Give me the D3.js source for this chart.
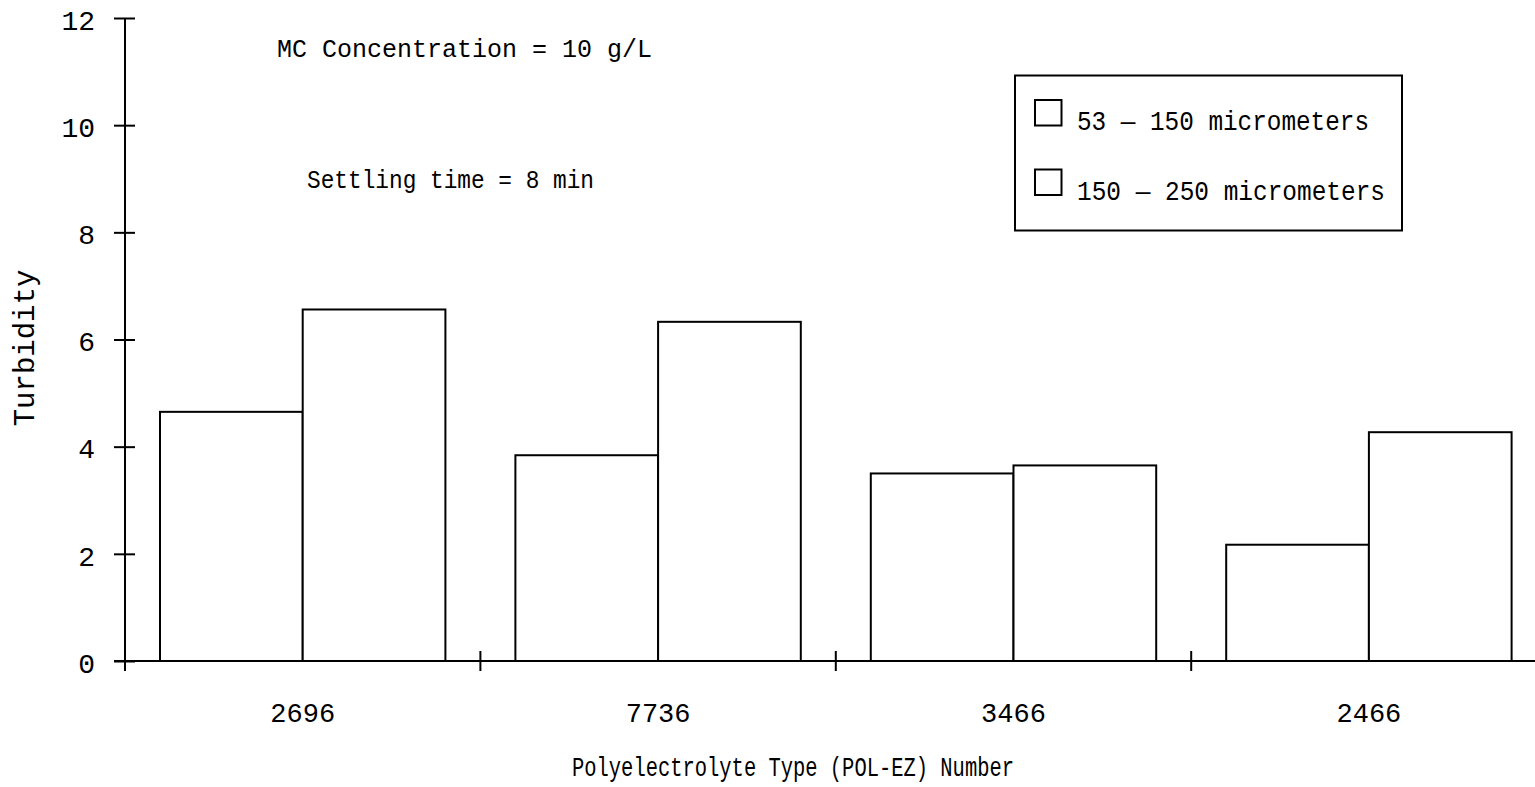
<!DOCTYPE html>
<html>
<head>
<meta charset="utf-8">
<script src="https://cdn.jsdelivr.net/npm/d3@7"></script>
<style>
  html, body { margin: 0; padding: 0; background: #fff; }
  svg text { font-family: "Liberation Mono", "Courier New", monospace; fill: #000; }
</style>
</head>
<body>
<script>
// Turbidity by polyelectrolyte type, two particle-size fractions
const categories = ["2696", "7736", "3466", "2466"];
const seriesNames = ["53 \u2014 150 micrometers", "150 \u2014 250 micrometers"];
const fine = [4.65, 3.84, 3.50, 2.17];     // 53-150 micrometers
const coarse = [6.56, 6.33, 3.65, 4.27];   // 150-250 micrometers
const yTicks = [0, 2, 4, 6, 8, 10, 12];

const W = 1535, H = 787;
const svg = d3.select("body").append("svg").attr("width", W).attr("height", H);

const x0 = 125, yBottom = 661, yTop = 18;
const step = 355.4;

const x = d3.scaleBand().domain(categories).range([x0, x0 + step * categories.length]).padding(0);
const xs = d3.scaleBand().domain(["fine", "coarse"]).range([35, x.bandwidth() - 35]).padding(0);
const y = d3.scaleLinear().domain([0, 12]).range([yBottom, yTop]);

const rows = categories.map((c, i) => ({ cat: c, values: [
  { key: "fine", v: fine[i] }, { key: "coarse", v: coarse[i] } ] }));

// bars
const g = svg.append("g");
g.selectAll("g.cat").data(rows).join("g")
  .attr("class", "cat")
  .attr("transform", d => `translate(${x(d.cat)},0)`)
  .selectAll("rect").data(d => d.values).join("rect")
  .attr("x", d => xs(d.key))
  .attr("y", d => y(d.v))
  .attr("width", xs.bandwidth())
  .attr("height", d => y(0) - y(d.v))
  .attr("fill", "#fff")
  .attr("stroke", "#000")
  .attr("stroke-width", 2);

// y axis
const yAxis = svg.append("g")
  .attr("transform", `translate(${x0},0)`)
  .call(d3.axisLeft(y).tickValues(yTicks).tickSize(0).tickPadding(30));
yAxis.select(".domain").remove();
yAxis.selectAll("text").attr("font-size", 28).attr("dy", "0.4em")
  .attr("font-family", "Liberation Mono, Courier New, monospace");
yAxis.selectAll(".tick").append("line")
  .attr("x1", -11).attr("x2", 10).attr("stroke", "#000").attr("stroke-width", 2);
svg.append("line").attr("x1", x0).attr("x2", x0).attr("y1", y(12)).attr("y2", yBottom)
  .attr("stroke", "#000").attr("stroke-width", 2);

// x axis
svg.append("line").attr("x1", x0 - 11).attr("x2", W).attr("y1", yBottom).attr("y2", yBottom)
  .attr("stroke", "#000").attr("stroke-width", 2);
svg.selectAll("line.xtick").data(categories).join("line")
  .attr("class", "xtick")
  .attr("x1", d => x(d)).attr("x2", d => x(d))
  .attr("y1", yBottom - 10).attr("y2", yBottom + 10)
  .attr("stroke", "#000").attr("stroke-width", 2);
svg.selectAll("text.xlab").data(categories).join("text")
  .attr("class", "xlab")
  .attr("x", d => x(d) + x.bandwidth() / 2)
  .attr("y", 722)
  .attr("text-anchor", "middle")
  .attr("font-size", 27)
  .text(d => d);

// axis titles
svg.append("text")
  .attr("x", 572).attr("y", 776)
  .attr("font-size", 27)
  .attr("textLength", 442).attr("lengthAdjust", "spacingAndGlyphs")
  .text("Polyelectrolyte Type (POL-EZ) Number");

svg.append("text")
  .attr("transform", "translate(33.5,348) rotate(-90)")
  .attr("text-anchor", "middle")
  .attr("font-size", 29)
  .text("Turbidity");

// annotations
svg.append("text")
  .attr("x", 277).attr("y", 57)
  .attr("font-size", 26)
  .attr("textLength", 375).attr("lengthAdjust", "spacingAndGlyphs")
  .text("MC Concentration = 10 g/L");
svg.append("text")
  .attr("x", 307).attr("y", 188)
  .attr("font-size", 26)
  .attr("textLength", 287).attr("lengthAdjust", "spacingAndGlyphs")
  .text("Settling time = 8 min");

// legend
const leg = svg.append("g");
leg.append("rect")
  .attr("x", 1015).attr("y", 75.5).attr("width", 387).attr("height", 155)
  .attr("fill", "#fff").attr("stroke", "#000").attr("stroke-width", 2);
const legLengths = [292, 308];
const legItems = leg.selectAll("g.item").data(seriesNames).join("g")
  .attr("class", "item")
  .attr("transform", (d, i) => `translate(0,${i * 69.5})`);
legItems.append("rect")
  .attr("x", 1035).attr("y", 100).attr("width", 26.5).attr("height", 25.5)
  .attr("fill", "#fff").attr("stroke", "#000").attr("stroke-width", 2);
legItems.append("text")
  .attr("x", 1077).attr("y", 130)
  .attr("font-size", 28)
  .attr("textLength", (d, i) => legLengths[i]).attr("lengthAdjust", "spacingAndGlyphs")
  .text(d => d);
</script>
</body>
</html>
